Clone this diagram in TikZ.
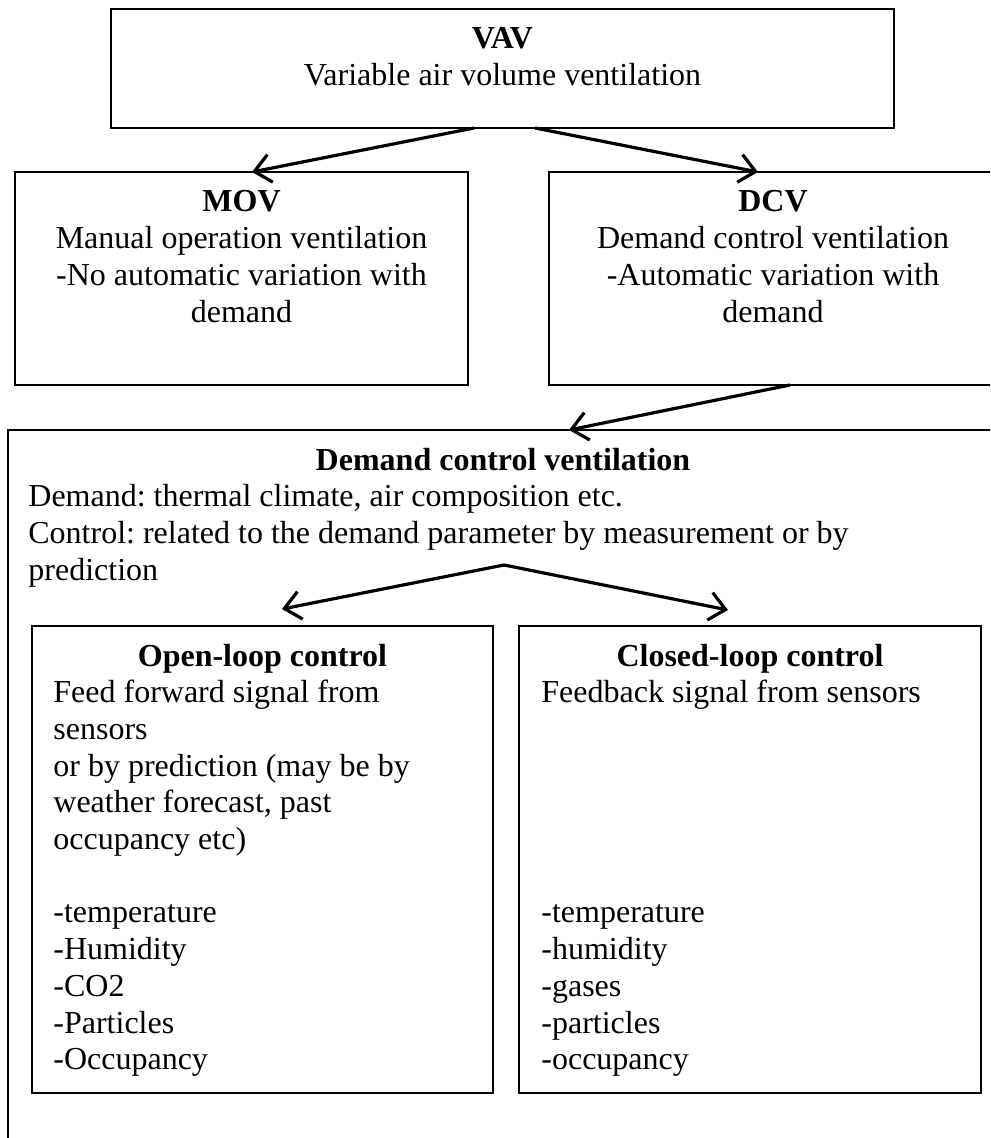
\documentclass[tikz,border=0pt]{standalone}
\usepackage{fontspec}
\setmainfont{Liberation Serif}
\usetikzlibrary{arrows.meta}
\frenchspacing

\tikzset{
  box/.style={draw, line width=1pt, rectangle, anchor=north west, inner sep=0pt, outer sep=0pt},
  link/.style={line width=1.6pt, -{Straight Barb[length=8pt,width=14pt,line width=1.6pt]}},
  ln/.style={anchor=base west, inner sep=0pt, font=\fontsize{16}{18.4}\selectfont},
  cln/.style={anchor=base, inner sep=0pt, font=\fontsize{16}{18.4}\selectfont},
  hd/.style={cln, font=\fontsize{16}{18.4}\selectfont\bfseries},
}

\begin{document}
\begin{tikzpicture}[x=0.5pt,y=-0.5pt]
\useasboundingbox (0,0) rectangle (990,1138);
\clip (0,0) rectangle (990,1138);

% boxes
\node[box, minimum width=783*0.5pt, minimum height=119*0.5pt] (vav) at (111,9) {};
\node[box, minimum width=453*0.5pt, minimum height=213*0.5pt] (mov) at (15,172) {};
\node[box, minimum width=448*0.5pt, minimum height=213*0.5pt] (dcv) at (549,172) {};
\node[box, minimum width=990*0.5pt, minimum height=800*0.5pt] (dcvall) at (8,430) {};
\node[box, minimum width=461*0.5pt, minimum height=467*0.5pt] (open) at (32,626) {};
\node[box, minimum width=462*0.5pt, minimum height=467*0.5pt] (closed) at (519,626) {};

% VAV
\node[hd] (vav-h) at (502.5,49) {VAV};
\node[cln] (vav-1) at (502.5,85.5) {Variable air volume ventilation};

% MOV / DCV
\node[hd] (mov-h) at (241.5,212) {MOV};
\foreach \t [count=\i] in {Manual operation ventilation, -No automatic variation with, demand}
  \node[cln] (mov-\i) at (241.5,212+36.7*\i) {\t};
\node[hd] (dcv-h) at (773,212) {DCV};
\foreach \t [count=\i] in {Demand control ventilation, -Automatic variation with, demand}
  \node[cln] (dcv-\i) at (773,212+36.7*\i) {\t};

% demand control ventilation
\node[hd] (dcvall-h) at (503,470) {Demand control ventilation};
\node[ln] (dcvall-1) at (28,506.7) {Demand: thermal climate, air composition etc.};
\node[ln] (dcvall-2) at (28,543.4) {Control: related to the demand parameter by measurement or by};
\node[ln] (dcvall-3) at (28,580.1) {prediction};

% open loop
\node[hd] (open-h) at (262.5,666) {Open-loop control};
\foreach \t [count=\i] in {Feed forward signal from, sensors, {or by prediction (may be by}, {weather forecast, past}, {occupancy etc)}, {}, -temperature, -Humidity, -CO2, -Particles, -Occupancy}
  \node[ln] (open-\i) at (53,666+36.7*\i) {\t};

% closed loop
\node[hd] (closed-h) at (750,666) {Closed-loop control};
\node[ln] (closed-1) at (541,702.7) {Feedback signal from sensors};
\foreach \t [count=\i from 7] in {-temperature, -humidity, -gases, -particles, -occupancy}
  \node[ln] (closed-\i) at (541,666+36.7*\i) {\t};

% arrows
\coordinate (split) at (504,565);
\coordinate (open-in) at (282,609);
\coordinate (closed-in) at (728,610);
\draw[link] ([xshift=-14.25pt]vav.south) -- ([xshift=5.25pt]mov.north);
\draw[link] ([xshift=16.25pt]vav.south) -- ([xshift=-7.5pt]dcv.north);
\draw[link] ([xshift=8.5pt]dcv.south) -- ([xshift=33pt]dcvall.north);
\draw[link] (split) -- (open-in);
\draw[link] (split) -- (closed-in);
\end{tikzpicture}
\end{document}
